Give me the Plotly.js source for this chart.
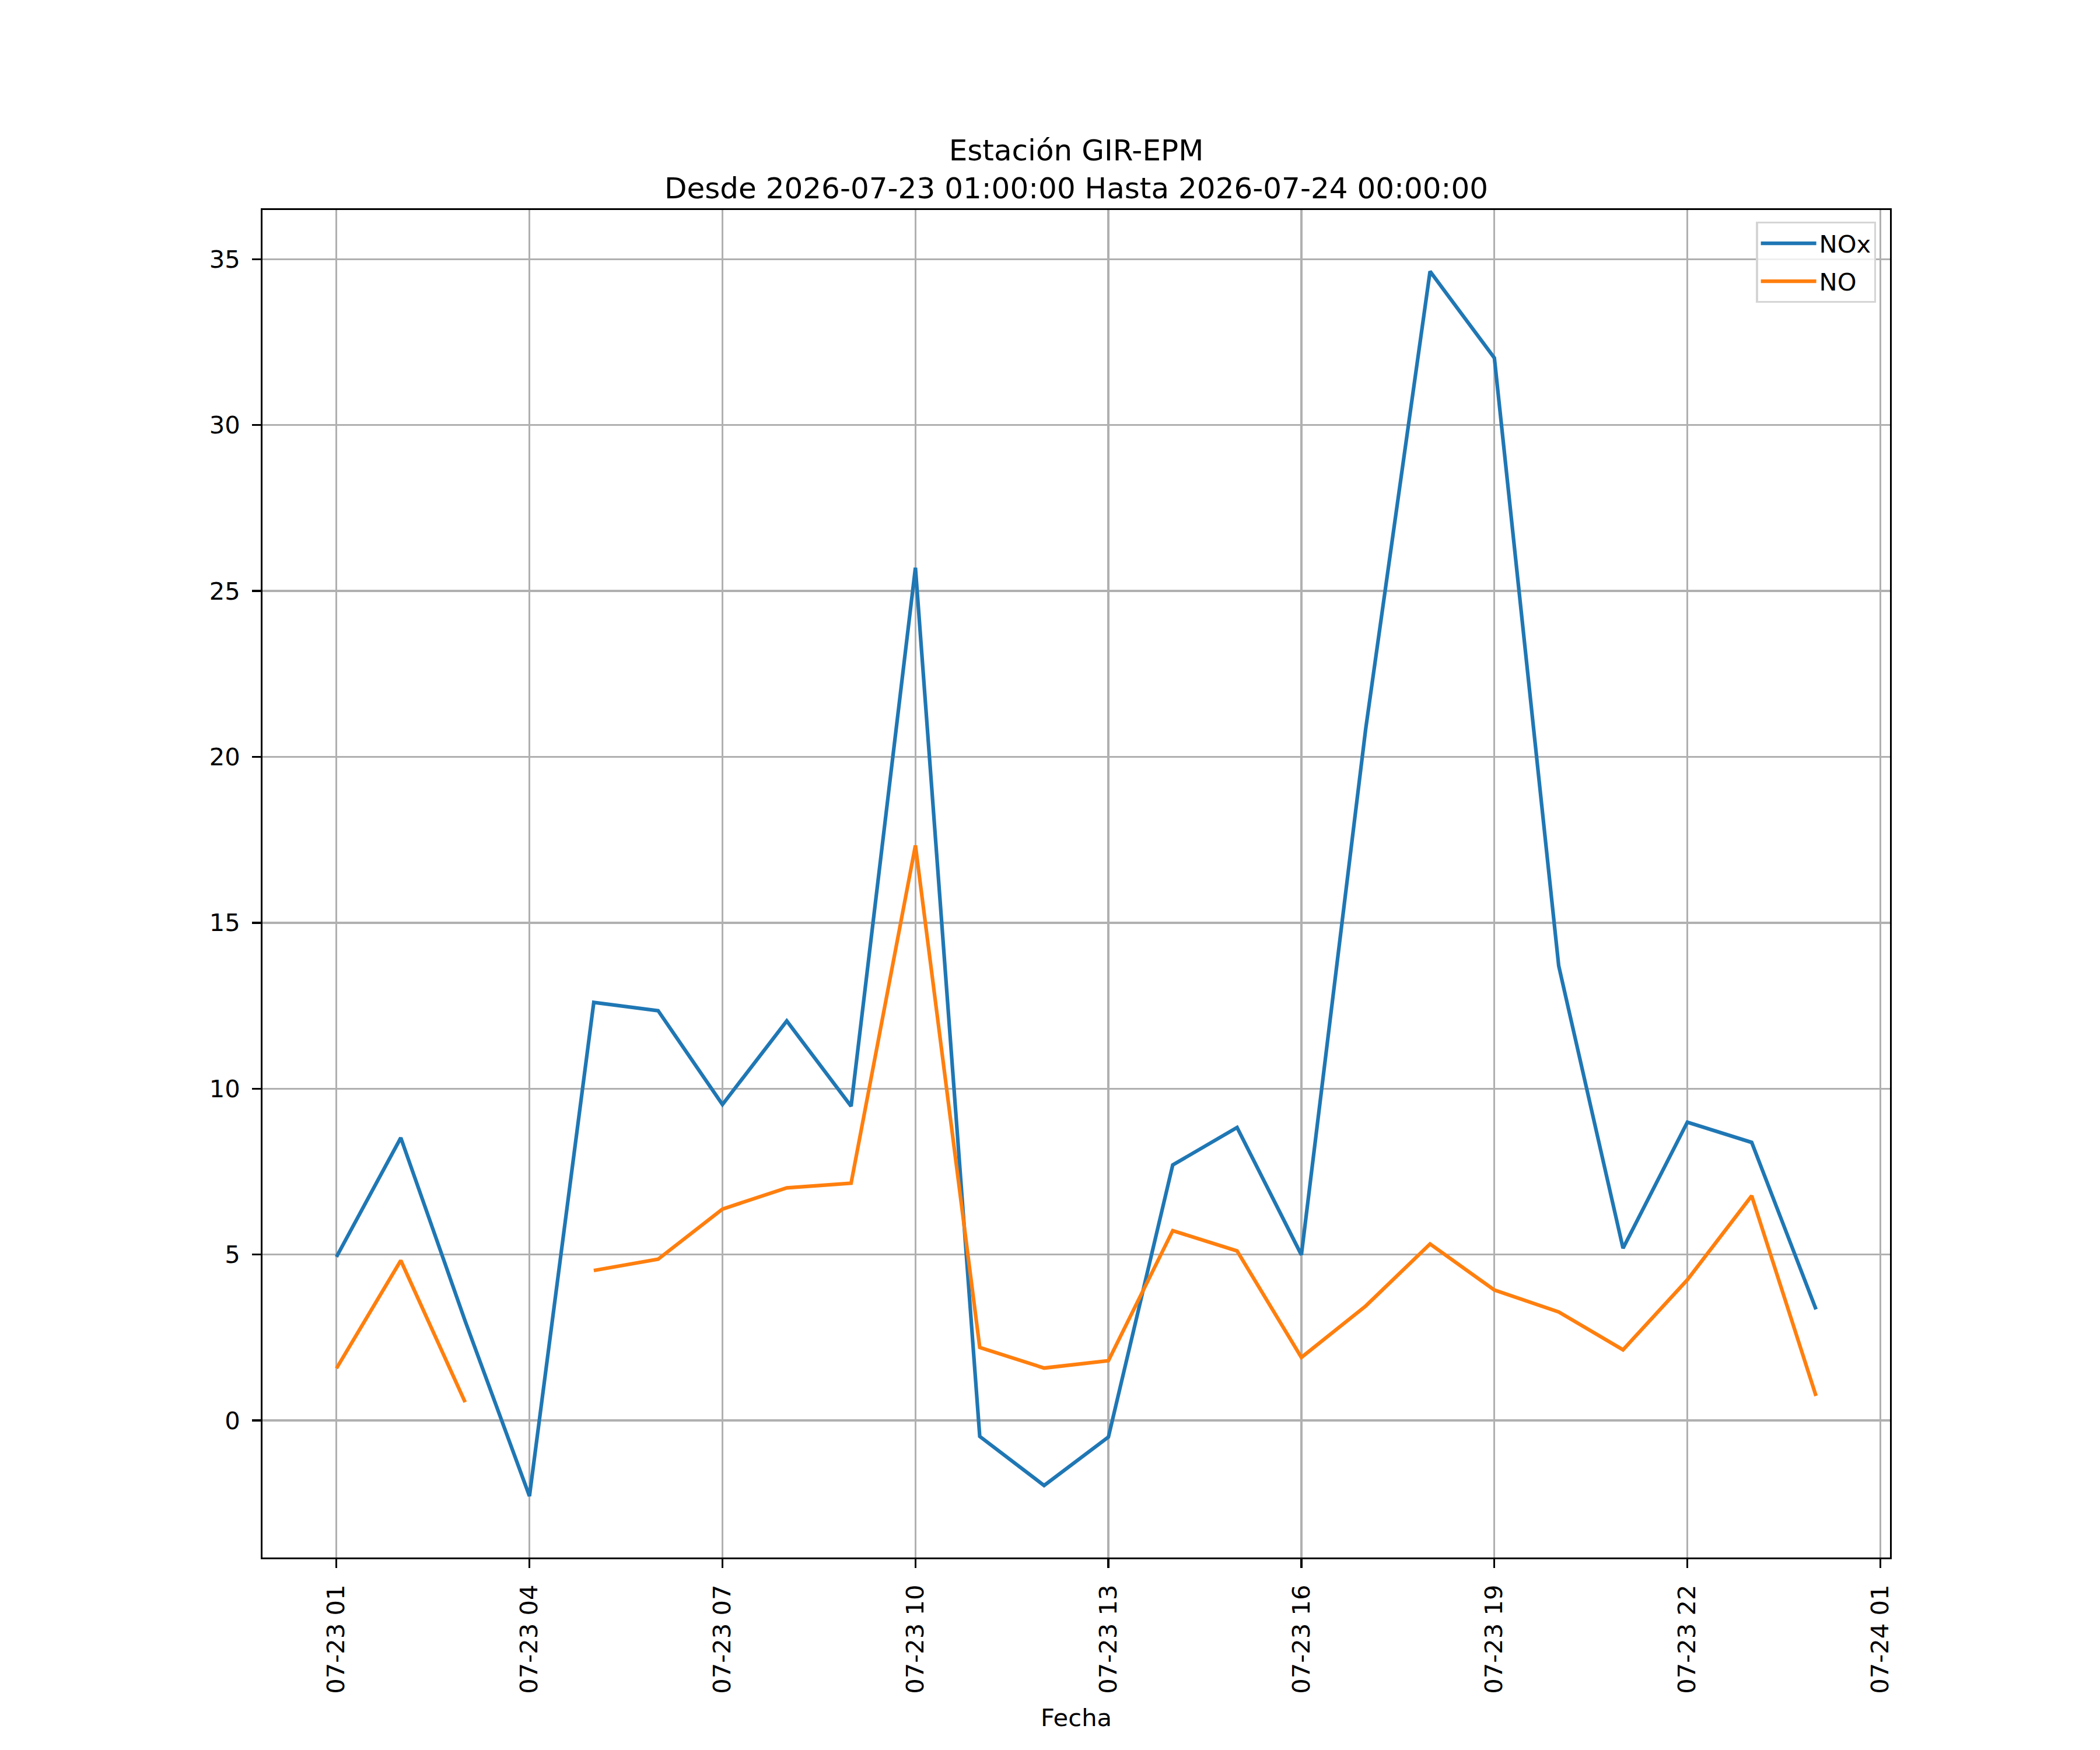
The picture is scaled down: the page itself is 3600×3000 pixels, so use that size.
<!DOCTYPE html>
<html>
<head>
<meta charset="utf-8">
<script src="https://cdn.plot.ly/plotly-3.0.1.min.js"></script>
<style>
  body { margin: 0; background: #fff; }
  #chart { width: 3600px; height: 3000px; }
</style>
</head>
<body>
<div id="chart"></div>
<script>
// hourly readings, 2026-07-23 01:00 .. 2026-07-24 00:00
const fechas = [
    '2026-07-23 01:00', '2026-07-23 02:00', '2026-07-23 03:00', '2026-07-23 04:00',
    '2026-07-23 05:00', '2026-07-23 06:00', '2026-07-23 07:00', '2026-07-23 08:00',
    '2026-07-23 09:00', '2026-07-23 10:00', '2026-07-23 11:00', '2026-07-23 12:00',
    '2026-07-23 13:00', '2026-07-23 14:00', '2026-07-23 15:00', '2026-07-23 16:00',
    '2026-07-23 17:00', '2026-07-23 18:00', '2026-07-23 19:00', '2026-07-23 20:00',
    '2026-07-23 21:00', '2026-07-23 22:00', '2026-07-23 23:00', '2026-07-24 00:00'
];

const nox = [4.93, 8.52, 3.0, -2.28, 12.6, 12.35, 9.52, 12.04, 9.47, 25.7, -0.48, -1.96,
             -0.5, 7.7, 8.83, 4.99, 20.85, 34.63, 32.02, 13.7, 5.19, 8.99, 8.38, 3.35];

const no = [1.57, 4.82, 0.55, null, 4.52, 4.86, 6.37, 7.01, 7.15, 17.33, 2.2, 1.58,
            1.8, 5.72, 5.11, 1.9, 3.45, 5.32, 3.93, 3.27, 2.13, 4.24, 6.77, 0.74];

const xTicks = ['2026-07-23 01:00', '2026-07-23 04:00', '2026-07-23 07:00', '2026-07-23 10:00',
                '2026-07-23 13:00', '2026-07-23 16:00', '2026-07-23 19:00', '2026-07-23 22:00',
                '2026-07-24 01:00'];

const yTicks = [0, 5, 10, 15, 20, 25, 30, 35];

const fontFamily = 'DejaVu Sans, sans-serif';
const pt = 300 / 72;

const data = [
    {
        x: fechas,
        y: nox,
        name: 'NOx',
        legendgroup: 'nox',
        type: 'scatter',
        mode: 'lines',
        line: { color: '#1f77b4', width: 1.5 * pt }
    },
    {
        x: fechas,
        y: no,
        name: 'NO',
        legendgroup: 'no',
        type: 'scatter',
        mode: 'lines',
        connectgaps: false,
        line: { color: '#ff7f0e', width: 1.5 * pt }
    }
];

const axisCommon = {
    showline: true,
    mirror: true,
    linecolor: '#000',
    linewidth: 0.8 * pt,
    ticks: 'outside',
    ticklen: 3.5 * pt,
    tickwidth: 0.8 * pt,
    tickcolor: '#000',
    showgrid: true,
    gridcolor: '#b0b0b0',
    gridwidth: 0.8 * pt,
    zeroline: false,
    tickfont: { family: fontFamily, size: 10 * pt, color: '#000' },
    automargin: false
};

const layout = {
    width: 3600,
    height: 3000,
    paper_bgcolor: '#fff',
    plot_bgcolor: '#fff',
    margin: { l: 450, r: 360, t: 360, b: 330 },
    font: { family: fontFamily, size: 10 * pt, color: '#000' },
    title: {
        text: 'Estación GIR-EPM<br>Desde 2026-07-23 01:00:00 Hasta 2026-07-24 00:00:00',
        font: { family: fontFamily, size: 12 * pt, color: '#000' },
        x: 0.5,
        xref: 'paper',
        xanchor: 'center',
        y: 1,
        yref: 'paper',
        yanchor: 'bottom',
        pad: { b: 85 }
    },
    xaxis: Object.assign({}, axisCommon, {
        type: 'date',
        range: ['2026-07-22 23:51', '2026-07-24 01:09'],
        tickvals: xTicks,
        tickformat: '%m-%d %H',
        tickangle: -90,
        ticklabelstandoff: 12,
        title: {
            text: 'Fecha',
            font: { family: fontFamily, size: 10 * pt, color: '#000' },
            standoff: 28
        }
    }),
    yaxis: Object.assign({}, axisCommon, {
        range: [-4.13, 36.48],
        tickvals: yTicks,
        ticklabelstandoff: 12
    }),
    legend: {
        x: 0.9915,
        y: 0.9913,
        xanchor: 'right',
        yanchor: 'top',
        bgcolor: 'rgba(255,255,255,0.8)',
        bordercolor: '#d5d5d5',
        borderwidth: 0.8 * pt,
        font: { family: fontFamily, size: 10 * pt, color: '#000' },
        itemwidth: 95,
        tracegroupgap: 8
    },
    showlegend: true
};

Plotly.newPlot('chart', data, layout, { staticPlot: true });
</script>
</body>
</html>
